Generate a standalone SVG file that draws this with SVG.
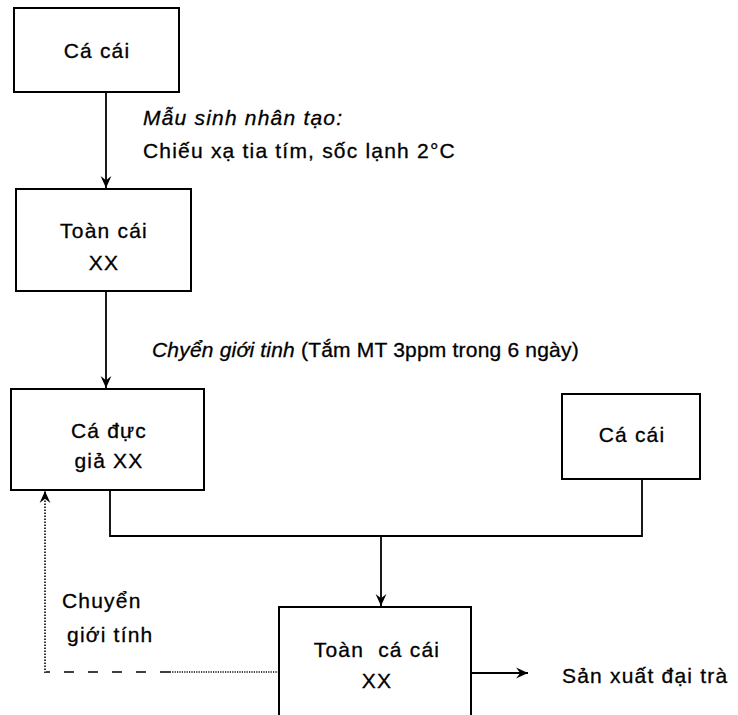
<svg xmlns="http://www.w3.org/2000/svg" width="738" height="715" viewBox="0 0 738 715">
<style>
.box{fill:#fff;stroke:#000;stroke-width:2}
.t{font-family:"Liberation Sans",Arial,sans-serif;font-size:21px;letter-spacing:1.2px;fill:#000;stroke:#000;stroke-width:0.3}
.c{text-anchor:middle}
.i{font-style:italic}
.ln{fill:none;stroke:#000;stroke-width:1.8}
.dot{fill:none;stroke:#000;stroke-width:1.6}
</style>
<defs>
<marker id="ah2" viewBox="0 0 10 10" refX="10" refY="5" markerWidth="12" markerHeight="12" markerUnits="userSpaceOnUse" orient="auto">
<path d="M0,0.5 L10,5 L0,9.5 L3.5,5 z" fill="#000"/>
</marker>
</defs>
<rect width="738" height="715" fill="#fff"/>
<g id="connectors">
<line class="ln" x1="106" y1="92" x2="106" y2="188" marker-end="url(#ah2)"/>
<line class="ln" x1="106" y1="291" x2="106" y2="388" marker-end="url(#ah2)"/>
<polyline class="ln" points="110,490 110,536 642,536 642,479"/>
<line class="ln" x1="381" y1="536" x2="381" y2="606" marker-end="url(#ah2)"/>
<line class="ln" x1="471" y1="673" x2="528" y2="673" marker-end="url(#ah2)"/>
<polyline class="dot" points="279,672 170,672" stroke-dasharray="1.2,1.2"/>
<polyline class="dot" points="170,672 46,672" stroke-dasharray="10,14"/>
<line class="dot" x1="45" y1="673" x2="45" y2="491" stroke-dasharray="1.5,1.5" marker-end="url(#ah2)"/>
</g>
<g id="n1">
<rect class="box" x="14" y="8" width="165" height="84"/>
<text class="t c" x="97" y="58">Cá cái</text>
</g>
<g id="l1">
<text class="t i" x="143" y="125">Mẫu sinh nhân tạo:</text>
<text class="t" x="143" y="158">Chiếu xạ tia tím, sốc lạnh 2°C</text>
</g>
<g id="n2">
<rect class="box" x="16" y="189" width="175" height="102"/>
<text class="t c" x="104" y="238">Toàn cái</text>
<text class="t c" x="104" y="270">XX</text>
</g>
<g id="l2">
<text class="t" x="152" y="357" style="letter-spacing:0.2px"><tspan class="i">Chyển giới tinh</tspan> (Tắm MT 3ppm trong 6 ngày)</text>
</g>
<g id="n3">
<rect class="box" x="11" y="389" width="193" height="101"/>
<text class="t c" x="109" y="438">Cá đực</text>
<text class="t c" x="109" y="468">giả XX</text>
</g>
<g id="n4">
<rect class="box" x="562" y="394" width="138" height="85"/>
<text class="t c" x="632" y="442">Cá cái</text>
</g>
<g id="n5">
<path class="box" d="M279,716 L279,607 L471,607 L471,716"/>
<text class="t c" x="377" y="657" xml:space="preserve">Toàn  cá cái</text>
<text class="t c" x="377" y="688">XX</text>
</g>
<g id="l3">
<text class="t" x="562" y="683">Sản xuất đại trà</text>
</g>
<g id="l4">
<text class="t" x="62" y="608">Chuyển</text>
<text class="t" x="67" y="642">giới tính</text>
</g>
</svg>
